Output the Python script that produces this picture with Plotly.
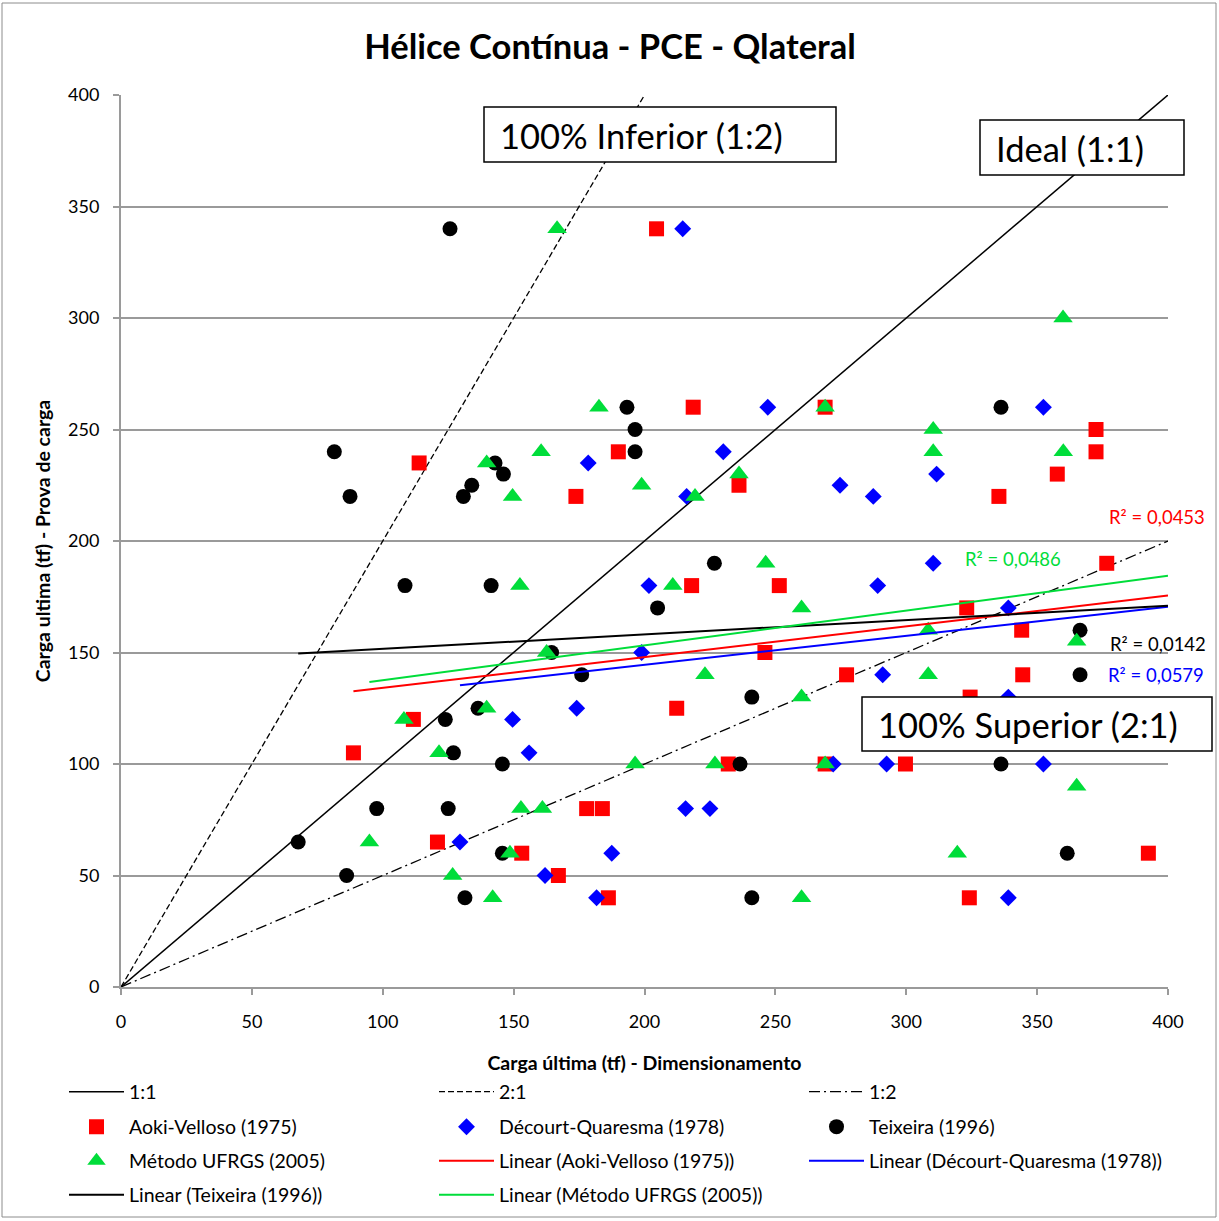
import plotly.graph_objects as go

# ---- data: design load (x) vs. load-test load (y), in tf ----
aoki_x = [204.6, 218.6, 269.0, 190.0, 113.9, 173.8, 236.1, 335.4, 357.7, 372.5, 372.5, 376.6,
          251.5, 218.0, 323.1, 344.1, 246.0, 277.2, 344.5, 324.4, 212.3, 111.7, 88.8, 232.0,
          269.0, 299.7, 177.9, 183.9, 120.9, 153.1, 392.5, 167.1, 186.2, 324.1]
aoki_y = [340, 260, 260, 240, 235, 220, 225, 220, 230, 250, 240, 190,
          180, 180, 170, 160, 150, 140, 140, 130, 125, 120, 105, 100,
          100, 100, 80, 80, 65, 60, 60, 50, 40, 40]

decourt_x = [214.6, 247.1, 352.4, 230.1, 178.5, 311.6, 274.7, 216.1, 287.4, 310.3, 201.7, 289.1,
             339.0, 198.9, 291.0, 339.0, 174.1, 149.6, 155.9, 272.1, 292.5, 352.4, 215.7, 225.0,
             129.5, 187.5, 162.0, 181.7, 339.0]
decourt_y = [340, 260, 260, 240, 235, 230, 225, 220, 220, 190, 180, 180,
             170, 150, 140, 130, 125, 120, 105, 100, 100, 100, 80, 80,
             65, 60, 50, 40, 40]

teixeira_x = [125.7, 193.3, 336.2, 196.4, 196.4, 81.5, 87.5, 130.8, 134.0, 142.9, 146.1, 226.7,
              108.5, 141.4, 205.0, 164.5, 366.4, 176.0, 366.4, 241.0, 136.4, 123.9, 127.0, 145.7,
              236.5, 336.2, 97.7, 125.0, 67.7, 145.7, 361.5, 86.2, 131.4, 241.0]
teixeira_y = [340, 260, 260, 250, 240, 240, 220, 220, 225, 235, 230, 190,
              180, 180, 170, 150, 160, 140, 140, 130, 125, 120, 105, 100,
              100, 100, 80, 80, 65, 60, 60, 50, 40, 40]

ufrgs_x = [166.6, 359.9, 182.6, 269.0, 310.3, 160.5, 310.3, 360.0, 139.7, 236.1, 198.9, 149.6,
           219.3, 246.3, 152.4, 210.8, 260.0, 308.4, 365.1, 162.6, 223.1, 308.4, 260.0, 139.7,
           108.1, 121.5, 196.4, 226.9, 269.0, 365.1, 152.8, 161.0, 94.9, 148.6, 319.5, 126.7,
           142.0, 260.0]
ufrgs_y = [340, 300, 260, 260, 250, 240, 240, 240, 235, 230, 225, 220,
           220, 190, 180, 180, 170, 160, 155, 150, 140, 140, 130, 125,
           120, 105, 100, 100, 100, 90, 80, 80, 65, 60, 60, 50,
           40, 40]

# linear trend lines (slope, intercept) and their R² labels, in series order
trend_slope = [0.1379, 0.1301, 0.0644, 0.1560]
trend_intercept = [120.35, 118.45, 145.24, 122.0]
r2_labels = ["R² = 0,0453", "R² = 0,0579", "R² = 0,0142", "R² = 0,0486"]

axis_ticks = [0, 50, 100, 150, 200, 250, 300, 350, 400]
axis_max = 400

FONT = "Lato"
RED, BLUE, BLACK, GREEN = "#FF0000", "#0000FF", "#000000", "#00DD3A"

# plot area in pixels, used to place frame elements in paper coordinates
PL, PR, PT, PB = 121, 1168, 95, 987


def px_x(p):
    return (p - PL) / (PR - PL)


def px_y(p):
    return (PB - p) / (PB - PT)


fig = go.Figure()

# reference ratio lines
fig.add_trace(go.Scatter(x=[0, axis_max], y=[0, axis_max], mode="lines", name="1:1",
                         line=dict(color=BLACK, width=1.5), legend="legend"))
fig.add_trace(go.Scatter(x=[0, axis_max / 2], y=[0, axis_max], mode="lines", name="2:1",
                         line=dict(color=BLACK, width=1.3, dash="6px,3px"), legend="legend"))
fig.add_trace(go.Scatter(x=[0, axis_max], y=[0, axis_max / 2], mode="lines", name="1:2",
                         line=dict(color=BLACK, width=1.3, dash="11px,4px,2px,4px"), legend="legend"))

series = [
    ("Aoki-Velloso (1975)", aoki_x, aoki_y, RED, "square", 15, "legend2"),
    ("Décourt-Quaresma (1978)", decourt_x, decourt_y, BLUE, "diamond", 13, "legend2"),
    ("Teixeira (1996)", teixeira_x, teixeira_y, BLACK, "circle", 15, "legend2"),
    ("Método UFRGS (2005)", ufrgs_x, ufrgs_y, GREEN, "triangle-up", 17, "legend3"),
]
for name, xs, ys, col, sym, size, lg in series:
    fig.add_trace(go.Scatter(x=xs, y=ys, mode="markers", name=name, legend=lg,
                             marker=dict(color=col, symbol=sym, size=size, line=dict(width=0))))

# trend lines, from the smallest x of each series to the axis end
trend_legends = ["legend3", "legend3", "legend4", "legend4"]
for (name, xs, ys, col, sym, size, lg), m, b, tlg in zip(series, trend_slope, trend_intercept, trend_legends):
    x0 = min(xs)
    fig.add_trace(go.Scatter(x=[x0, axis_max], y=[m * x0 + b, m * axis_max + b],
                             mode="lines", name=f"Linear ({name})", legend=tlg,
                             line=dict(color=col, width=2)))

# R² labels next to the trend lines
r2_pos = [(1207, 517, "right", RED), (1206, 675, "right", BLUE),
          (1208, 644, "right", BLACK), (963, 559, "left", GREEN)]
for txt, (ax, ay, anc, col) in zip(r2_labels, r2_pos):
    fig.add_annotation(x=px_x(ax), y=px_y(ay), xref="paper", yref="paper", text=txt, showarrow=False,
                       xanchor=anc, yanchor="middle", font=dict(family=FONT, size=18.5, color=col))

# boxed captions: (text, box left, box right, box top, box bottom, text left)
boxes = [
    ("100% Inferior (1:2)", 484, 836, 107, 162, 498),
    ("Ideal (1:1)", 980, 1184, 120, 175, 994),
    ("100% Superior (2:1)", 862, 1212, 697, 751, 876),
]
for txt, bl, br, bt, bb, tl in boxes:
    fig.add_shape(type="rect", xref="paper", yref="paper",
                  x0=px_x(bl), x1=px_x(br), y0=px_y(bb), y1=px_y(bt),
                  line=dict(color=BLACK, width=1.5), fillcolor="white", layer="above")
    fig.add_annotation(x=px_x(tl), y=px_y((bt + bb) / 2 + 1), xref="paper", yref="paper", text=txt,
                       showarrow=False, xanchor="left", yanchor="middle",
                       font=dict(family=FONT, size=34.5, color=BLACK))

# outer frame of the chart area
fig.add_shape(type="rect", xref="paper", yref="paper",
              x0=px_x(2), x1=px_x(1216), y0=px_y(1217), y1=px_y(3),
              line=dict(color="#8C8C8C", width=1), fillcolor="rgba(0,0,0,0)", layer="below")

axis_common = dict(range=[0, axis_max], tickvals=axis_ticks, showline=True, linecolor="#9A9A9A",
                   linewidth=2, ticks="outside", ticklen=6, tickwidth=2, tickcolor="#9A9A9A",
                   zeroline=False, tickfont=dict(family=FONT, size=18, color=BLACK))

legend_common = dict(orientation="h", xanchor="left", yanchor="middle", x=px_x(64),
                     entrywidth=300, entrywidthmode="pixels", bgcolor="rgba(0,0,0,0)",
                     font=dict(family=FONT, size=19.5, color=BLACK), itemwidth=55)

fig.update_layout(
    width=1219, height=1221,
    margin=dict(l=PL, r=1219 - PR, t=PT, b=1221 - PB, autoexpand=False),
    paper_bgcolor="white", plot_bgcolor="white",
    title=dict(text="<b>Hélice Contínua - PCE - Qlateral</b>", x=px_x(610), xref="paper",
               xanchor="center", y=1 - 47 / 1221, yanchor="middle",
               font=dict(family=FONT, size=34.5, color=BLACK)),
    xaxis=dict(**axis_common, showgrid=False, ticklabelstandoff=11,
               title=dict(text="<b>Carga última (tf) - Dimensionamento</b>", standoff=26,
                          font=dict(family=FONT, size=19.5, color=BLACK))),
    yaxis=dict(**axis_common, showgrid=True, gridcolor="#9A9A9A", gridwidth=2, ticklabelstandoff=10,
               title=dict(text="<b>Carga ultima (tf) - Prova de carga</b>", standoff=12,
                          font=dict(family=FONT, size=19.5, color=BLACK))),
    legend=dict(**legend_common, y=px_y(1092)),
    legend2=dict(**legend_common, y=px_y(1127)),
    legend3=dict(**legend_common, y=px_y(1161)),
    legend4=dict(**legend_common, y=px_y(1195)),
    showlegend=True,
)

fig.write_html("out.html")
